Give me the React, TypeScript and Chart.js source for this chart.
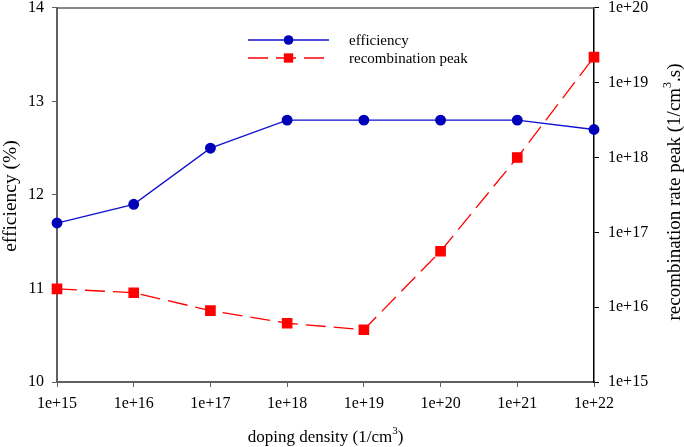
import React, { useEffect, useRef } from 'react';
import { Chart, registerables } from 'chart.js';

Chart.register(...registerables);

const dopingLabels = ['1e+15', '1e+16', '1e+17', '1e+18', '1e+19', '1e+20', '1e+21', '1e+22'];
const efficiency = [11.7, 11.9, 12.5, 12.8, 12.8, 12.8, 12.8, 12.7];
const recombinationPeak = [1.76e16, 1.56e16, 9.0e15, 6.1e15, 5.0e15, 5.6e16, 1.0e18, 2.2e19];
const efficiencyTicks = [10, 11, 12, 13, 14];
const rateTicks = [1e15, 1e16, 1e17, 1e18, 1e19, 1e20];
const rateTickLabels = ['1e+15', '1e+16', '1e+17', '1e+18', '1e+19', '1e+20'];
const seriesNames = ['efficiency', 'recombination peak'];

const FONT = '"Liberation Serif", "Times New Roman", serif';

type Part = { text: string; sup?: boolean };

function drawRich(ctx: CanvasRenderingContext2D, parts: Part[], cx: number, cy: number, rot: number, size: number) {
  ctx.save();
  ctx.translate(cx, cy);
  ctx.rotate(rot);
  const supSize = Math.round(size * 0.62);
  let total = 0;
  const widths = parts.map((p) => {
    ctx.font = `${p.sup ? supSize : size}px ${FONT}`;
    const w = ctx.measureText(p.text).width;
    total += w;
    return w;
  });
  let x = -total / 2;
  ctx.fillStyle = '#000';
  ctx.textBaseline = 'middle';
  ctx.textAlign = 'left';
  parts.forEach((p, i) => {
    ctx.font = `${p.sup ? supSize : size}px ${FONT}`;
    ctx.fillText(p.text, x, p.sup ? -size * 0.38 : 0);
    x += widths[i];
  });
  ctx.restore();
}

const decorPlugin = {
  id: 'decor',
  afterDraw(chart: any) {
    const ctx: CanvasRenderingContext2D = chart.ctx;
    const area = chart.chartArea;
    // top frame line
    ctx.save();
    ctx.strokeStyle = '#606060';
    ctx.lineWidth = 1.5;
    ctx.beginPath();
    ctx.moveTo(area.left, area.top);
    ctx.lineTo(area.right, area.top);
    ctx.stroke();
    ctx.restore();

    // titles
    drawRich(ctx, [{ text: 'doping density (1/cm' }, { text: '3', sup: true }, { text: ')' }], (area.left + area.right) / 2, 438, 0, 17);
    drawRich(ctx, [{ text: 'efficiency (%)' }], 11, 196, -Math.PI / 2, 19.5);
    drawRich(ctx, [{ text: 'recombination rate peak (1/cm' }, { text: '3', sup: true }, { text: '.s)' }], 675, 192, -Math.PI / 2, 19);

    // legend
    const rows = [40, 58];
    chart.data.datasets.forEach((ds: any, i: number) => {
      const y = rows[i];
      const x0 = 248;
      const x1 = 329;
      ctx.save();
      ctx.strokeStyle = ds.borderColor;
      ctx.lineWidth = ds.borderWidth;
      ctx.setLineDash(ds.borderDash || []);
      ctx.beginPath();
      ctx.moveTo(x0, y);
      ctx.lineTo(x1, y);
      ctx.stroke();
      ctx.setLineDash([]);
      ctx.fillStyle = ds.pointBackgroundColor;
      if (ds.pointStyle === 'rect') {
        const s = ds.pointRadius * Math.SQRT1_2;
        ctx.fillRect((x0 + x1) / 2 - s, y - s, 2 * s, 2 * s);
      } else {
        ctx.beginPath();
        ctx.arc((x0 + x1) / 2, y, ds.pointRadius, 0, Math.PI * 2);
        ctx.fill();
      }
      ctx.fillStyle = '#000';
      ctx.font = `15px ${FONT}`;
      ctx.textBaseline = 'middle';
      ctx.textAlign = 'left';
      ctx.fillText(ds.label, 349, y + 1);
      ctx.restore();
    });
  },
};

export default function App() {
  const ref = useRef<HTMLCanvasElement | null>(null);

  useEffect(() => {
    document.body.style.margin = '0';
    const canvas = ref.current;
    if (!canvas) return;
    const tickFont = { family: FONT, size: 16 };
    const chart = new Chart(canvas, {
      type: 'line',
      data: {
        labels: dopingLabels,
        datasets: [
          {
            label: seriesNames[0],
            data: efficiency,
            yAxisID: 'y',
            borderColor: '#1010d0',
            backgroundColor: '#0000b8',
            pointBackgroundColor: '#0000b8',
            pointBorderColor: '#0000b8',
            borderWidth: 1.3,
            pointRadius: 4.8,
            pointStyle: 'circle',
            tension: 0,
          },
          {
            label: seriesNames[1],
            data: recombinationPeak,
            yAxisID: 'y2',
            borderColor: '#ff0000',
            backgroundColor: '#ff0000',
            pointBackgroundColor: '#ff0000',
            pointBorderColor: '#ff0000',
            borderWidth: 1.3,
            borderDash: [20, 8],
            pointRadius: 6.6,
            pointStyle: 'rect',
            tension: 0,
          },
        ],
      },
      options: {
        responsive: false,
        animation: false,
        layout: { padding: { top: 5, left: 0, right: 0, bottom: 0 } },
        plugins: {
          legend: { display: false },
          tooltip: { enabled: false },
        },
        scales: {
          x: {
            type: 'category',
            offset: false,
            grid: { drawOnChartArea: false, drawTicks: true, tickLength: 5, color: '#606060' },
            border: { display: true, color: '#606060', width: 2 },
            ticks: { font: tickFont, color: '#000', padding: 7, maxRotation: 0, autoSkip: false },
            afterFit(scale: any) {
              scale.height = 65;
              scale.paddingLeft = 0;
              scale.paddingRight = 0;
            },
          },
          y: {
            type: 'linear',
            position: 'left',
            min: 10,
            max: 14,
            afterBuildTicks(scale: any) {
              scale.ticks = efficiencyTicks.map((v) => ({ value: v }));
            },
            grid: { drawOnChartArea: false, drawTicks: true, tickLength: 5, color: '#606060' },
            border: { display: true, color: '#606060', width: 2 },
            ticks: { font: tickFont, color: '#000', padding: 8, callback: (v: any) => String(v) },
            afterFit(scale: any) {
              scale.width = 57;
              scale.paddingTop = 0;
              scale.paddingBottom = 0;
            },
          },
          y2: {
            type: 'logarithmic',
            position: 'right',
            min: 1e15,
            max: 1e20,
            afterBuildTicks(scale: any) {
              scale.ticks = rateTicks.map((v) => ({ value: v }));
            },
            grid: { drawOnChartArea: false, drawTicks: true, tickLength: 5, color: '#000' },
            border: { display: true, color: '#000', width: 1.5 },
            ticks: {
              font: tickFont,
              color: '#000',
              padding: 9,
              callback: (v: any) => {
                const i = rateTicks.findIndex((t) => Math.abs(Math.log10(t) - Math.log10(v)) < 1e-6);
                return i >= 0 ? rateTickLabels[i] : '';
              },
            },
            afterFit(scale: any) {
              scale.width = 90;
              scale.paddingTop = 0;
              scale.paddingBottom = 0;
            },
          },
        },
      },
      plugins: [decorPlugin],
    } as any);
    return () => chart.destroy();
  }, []);

  return <canvas ref={ref} width={684} height={447} style={{ display: 'block' }} />;
}
